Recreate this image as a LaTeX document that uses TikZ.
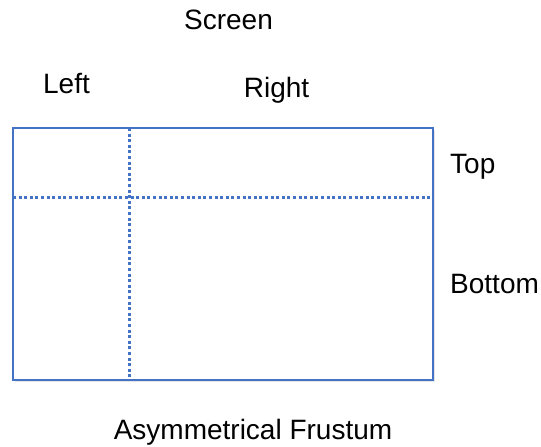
\documentclass[tikz,border=0pt]{standalone}
\usepackage{fontspec}
\setmainfont{Liberation Sans}
\usetikzlibrary{calc,positioning}
\definecolor{frameBlue}{RGB}{68,114,196}
\tikzset{
	lbl/.style={font=\fontsize{28}{32}\selectfont, inner sep=0pt, anchor=base},
	splitLine/.style={draw=frameBlue, line width=3pt, line cap=butt, dash pattern=on 3pt off 2.6pt},
}
\begin{document}
\begin{tikzpicture}[x=1pt,y=-1pt]
				\useasboundingbox (0,0) rectangle (541,447);
				\coordinate (tl) at (13,128);
				\coordinate (br) at (433,380);
				% soft shadow under the screen
				\fill[black!10] ($(tl)+(2,2)$) rectangle ($(br)+(2,2)$);
				\fill[white] (tl) rectangle (br);
				\path[splitLine] (129,128) -- (129,380);
				\path[splitLine] (13,197) -- (433,197);
				\draw[frameBlue, line width=1.2pt] (tl) rectangle (br);
				\node[lbl] (screen) at (228.5,29) {Screen};
				\node[lbl] (left) at (66.5,93) {Left};
				\node[lbl] (right) at (276.5,97) {Right};
				\node[lbl, anchor=base west] (top) at (450,173) {Top};
				\node[lbl, anchor=base west] (bottom) at (450,293) {Bottom};
				\node[lbl] (title) at (253,439) {Asymmetrical Frustum};
				\end{tikzpicture}
\end{document}
